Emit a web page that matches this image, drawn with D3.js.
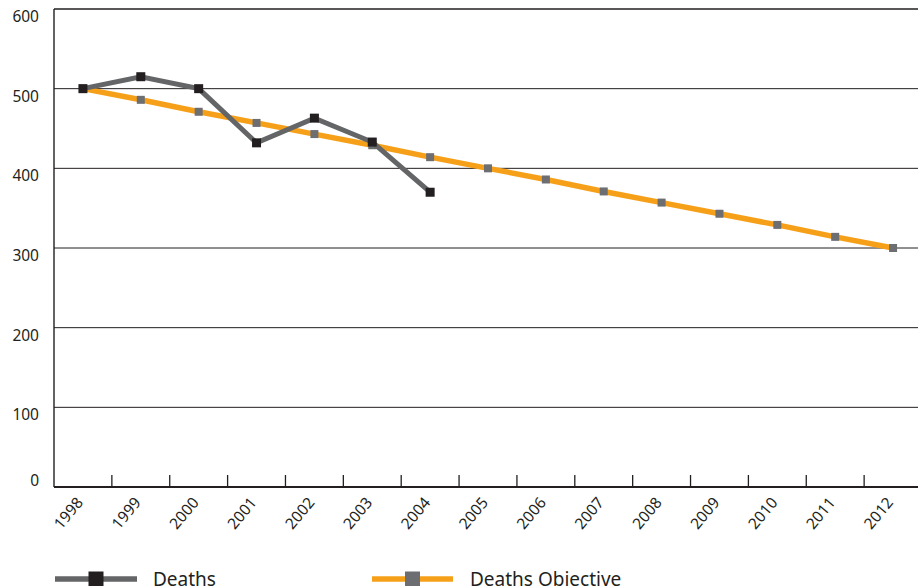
<!DOCTYPE html>
<html><head><meta charset="utf-8">
<script src="https://cdn.jsdelivr.net/npm/d3@7"></script>
<style>html,body{margin:0;padding:0;background:#fff;overflow:hidden}</style>
</head><body>
<svg id="c" width="918" height="586"></svg>
<script>
const years = ["1998","1999","2000","2001","2002","2003","2004","2005","2006","2007","2008","2009","2010","2011","2012"];
const deaths = [500, 515, 500, 432, 463, 433, 370];
const objective = [500, 486, 471, 457, 443, 429, 414, 400, 386, 371, 357, 343, 329, 314, 300];
const yTicks = [0, 100, 200, 300, 400, 500, 600];
const seriesNames = ["Deaths", "Deaths Objective"];

(function () {
const svg = d3.select("#c");
const font = "'Noto Sans', 'Open Sans', sans-serif";
const pL = 54, pR = 922, pT = 9, pB = 487;
const x = d3.scaleBand().domain(years).range([pL, pR]);
const y = d3.scaleLinear().domain([0, 600]).range([pB, pT]);
const cx = d => x(d) + x.bandwidth() / 2;

// gridlines
svg.append("g").selectAll("line").data(yTicks.filter(t => t > 0)).join("line")
  .attr("x1", pL).attr("x2", 918)
  .attr("y1", d => y(d)).attr("y2", d => y(d))
  .attr("stroke", "#231f20").attr("stroke-width", d => d === 600 ? 1.6 : 1);

// y labels
svg.append("g").selectAll("text").data(yTicks).join("text")
  .attr("x", 39).attr("y", d => d === 0 ? y(d) - 1 : y(d) + 13)
  .attr("text-anchor", "end").attr("font-family", font).attr("font-size", 15.5)
  .attr("fill", "#231f20").text(d => d);

// left axis
svg.append("line").attr("x1", pL).attr("x2", pL).attr("y1", pT).attr("y2", pB)
  .attr("stroke", "#231f20").attr("stroke-width", 1.4);

// bottom axis with inward ticks between categories
const xAxis = d3.axisBottom(x).tickSize(0).tickFormat("");
const gx = svg.append("g").attr("transform", `translate(0,${pB})`).call(xAxis);
gx.select(".domain").attr("stroke", "#231f20").attr("stroke-width", 2).attr("d", `M${pL},0H918`);
svg.append("g").selectAll("line").data(years).join("line")
  .attr("x1", d => x(d) + x.bandwidth()).attr("x2", d => x(d) + x.bandwidth())
  .attr("y1", pB - 12).attr("y2", pB)
  .attr("stroke", "#231f20").attr("stroke-width", 1.3);

// x labels
const xl = svg.append("g").selectAll("g").data(years).join("g")
  .attr("transform", d => "translate(" + (cx(d) + 1) + "," + (pB + 16) + ")");
xl.append("g").attr("transform", "rotate(-50)")
  .append("text").attr("x", 0).attr("y", 0)
  .attr("text-anchor", "end").attr("font-family", font).attr("font-size", 15.5)
  .attr("fill", "#231f20").text(d => d);

const line = d3.line().x((d, i) => cx(years[i])).y(d => y(d));

// objective
svg.append("path").datum(objective).attr("d", line).attr("fill", "none")
  .attr("stroke", "#f6a01a").attr("stroke-width", 5.5);
svg.append("g").selectAll("rect").data(objective).join("rect")
  .attr("x", (d, i) => cx(years[i]) - 4).attr("y", d => y(d) - 4)
  .attr("width", 8).attr("height", 8).attr("fill", "#6d6e71");

// deaths
svg.append("path").datum(deaths).attr("d", line).attr("fill", "none")
  .attr("stroke", "#646567").attr("stroke-width", 5).attr("stroke-linejoin", "miter");
svg.append("g").selectAll("rect").data(deaths).join("rect")
  .attr("x", (d, i) => cx(years[i]) - 4.5).attr("y", d => y(d) - 4.5)
  .attr("width", 9).attr("height", 9).attr("fill", "#231f20");

// legend
const legY = 579;
const leg = [
  {name: seriesNames[0], x1: 55, x2: 137, lc: "#646567", mc: "#231f20", tx: 153},
  {name: seriesNames[1], x1: 372, x2: 453, lc: "#f6a01a", mc: "#6d6e71", tx: 470}
];
const lg = svg.append("g").selectAll("g").data(leg).join("g");
lg.append("line").attr("x1", d => d.x1).attr("x2", d => d.x2).attr("y1", legY).attr("y2", legY)
  .attr("stroke", d => d.lc).attr("stroke-width", 5.5);
lg.append("rect").attr("x", d => (d.x1 + d.x2) / 2 - 7.5).attr("y", legY - 7.5)
  .attr("width", 15).attr("height", 15).attr("fill", d => d.mc);
lg.append("text").attr("x", d => d.tx).attr("y", 586).attr("font-family", font)
  .attr("font-size", 19).attr("fill", "#231f20").text(d => d.name);
})();
</script>
</body></html>
